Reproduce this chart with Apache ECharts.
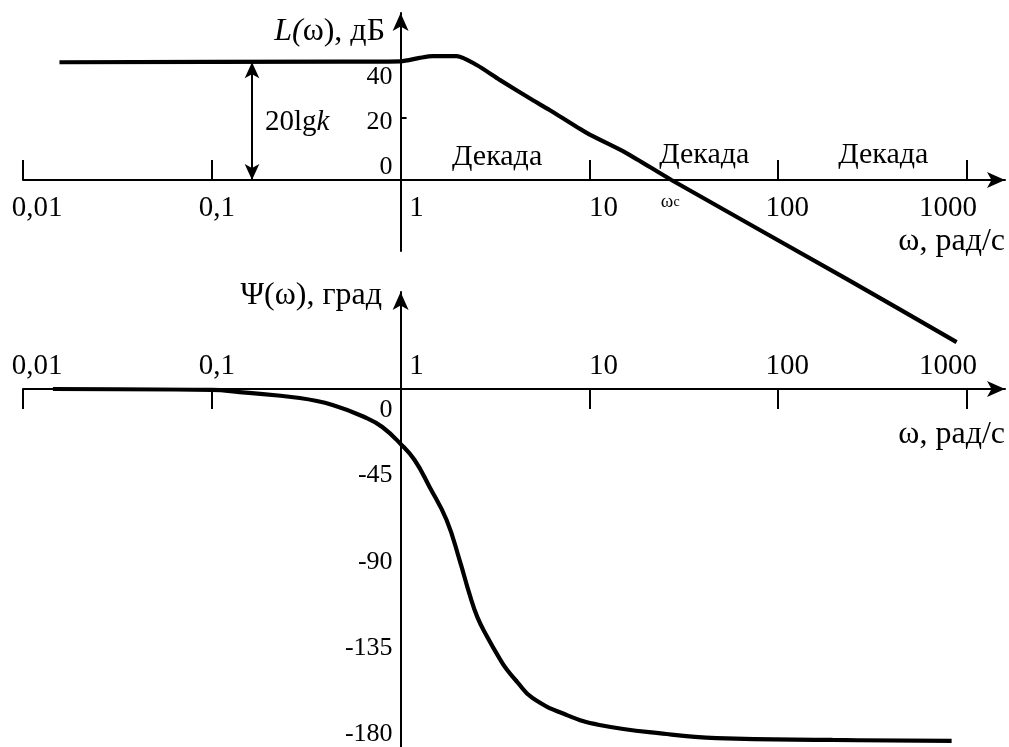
<!DOCTYPE html>
<html><head><meta charset="utf-8">
<script src="https://cdn.jsdelivr.net/npm/echarts@6/dist/echarts.min.js"></script>
<style>html,body{margin:0;padding:0;background:#fff}#c{width:1009px;height:747px}</style>
</head><body><div id="c"></div>
<script>
// ---------- data ----------
const xTickValues = [0.01, 0.1, 1, 10, 100, 1000];
const xTickLabels = ['0,01', '0,1', '1', '10', '100', '1000'];
const xTickMarks = [0.01, 0.1, 10, 100, 1000];
const magTickValues = [0, 20, 40];
const magTickMarks = [20];
const phaseTickValues = [0, -45, -90, -135, -180];

const magOmega = [0.0156, 0.5, 1.0, 1.26, 1.48, 1.98, 2.53, 3.35, 5.0, 6.15, 9.67, 15.7, 27.2, 230, 881];
const magDb    = [38.0, 38.2, 38.3, 39.4, 40.0, 40.0, 37.1, 32.3, 25.8, 22.6, 15.2, 8.7, 0, -31.9, -52.3];

const phaseOmega = [0.0144, 0.1, 0.14, 0.292, 0.436, 0.66, 0.8, 1.0, 1.186, 1.424, 1.752, 2.053, 2.32, 2.55, 2.855, 3.35, 3.643, 4.14, 5.0, 7.58, 11.3, 25.6, 47.2, 194, 829];
const phaseDeg   = [0, -0.5, -1.6, -4.7, -8.3, -15.1, -19.8, -28.6, -37.0, -51.0, -68.2, -89.1, -107.0, -118.8, -128.5, -140.5, -146.0, -152.5, -161.0, -169.8, -175, -179.7, -181.8, -182.8, -183.3];

const decadeOmega = [3.245, 40.6, 359.9];
const decadeDb = [7.4, 8.1, 8.1];
const decadeText = 'Декада';
const crossOmega = 26.8, crossLabelDb = -7.1;       // ωc label
const gainOmega = 0.1633, gainDb = 38;               // 20lgk arrow
const gainLabelOmega = 0.283, gainLabelDb = 18.7;

const magTitle = '{i|L(}{n|ω), дБ}';
const phaseTitle = 'Ψ(ω), град';
const omegaTitle = 'ω, рад/с';

// ---------- layout ----------
const FONT = 'Liberation Serif';
const W = 1009;
const gridLeft = 23, gridRight = 4;
const pxPerDecade = 188.8;
const plotW = W - gridLeft - gridRight;
const xMin = 0.01, xMax = xMin * Math.pow(10, plotW / pxPerDecade);
const yAxisOffset = -pxPerDecade * Math.log10(1 / xMin);

const topGrid = {left: gridLeft, right: gridRight, top: 13, height: 238, outerBoundsMode: 'none'};
const magMin = -22.91, magMax = 53.89;
const topZero = topGrid.top + topGrid.height * magMax / (magMax - magMin);
const topXOffset = -(topGrid.top + topGrid.height - topZero);

const botGrid = {left: gridLeft, right: gridRight, top: 292, height: 455, outerBoundsMode: 'none'};
const phMin = -186.46, phMax = 50.52;
const botZero = botGrid.top + botGrid.height * phMax / (phMax - phMin);
const botXOffset = -(botZero - botGrid.top);

const xLabelShift = [14, 5, 16, 14, 9, -19];
const magLabelShift = [-13, 4, 21];
const phLabelShift = [21, 0, 0, 0, 0];

function hPad(s) { return s >= 0 ? [0, 0, 0, 2 * s] : [0, -2 * s, 0, 0]; }
function vPad(s) { return s >= 0 ? [2 * s, 0, 0, 0] : [0, 0, -2 * s, 0]; }
function richSet(prefix, shifts, padFn, size) {
  const r = {};
  shifts.forEach((s, i) => { r[prefix + i] = {fontFamily: FONT, fontSize: size, color: '#000', padding: padFn(s)}; });
  return r;
}
function xIdx(v) { const lv = Math.log10(v); return xTickValues.findIndex(t => Math.abs(Math.log10(t) - lv) < 1e-6); }
const xFormatter = v => { const i = xIdx(v); return i < 0 ? '' : '{x' + i + '|' + xTickLabels[i] + '}'; };

const axisLineStyle = {color: '#000', width: 2};

function xAxisCfg(gridIndex, position, offset, margin) {
  return {
    type: 'log', logBase: 10, gridIndex, min: xMin, max: xMax, position, offset,
    axisLine: {show: true, onZero: false, lineStyle: axisLineStyle, symbol: ['none', 'arrow'], symbolSize: [12, 18]},
    axisTick: {show: true, inside: true, length: 20, lineStyle: {color: '#000', width: 2}, customValues: xTickMarks},
    axisLabel: {show: true, margin, customValues: xTickValues, formatter: xFormatter,
      rich: richSet('x', xLabelShift, hPad, 29)},
    splitLine: {show: false}, minorTick: {show: false}
  };
}
function yAxisCfg(gridIndex, min, max, values, prefix, shifts, tick) {
  return {
    type: 'value', gridIndex, min, max, position: 'left', offset: yAxisOffset,
    axisLine: {show: true, onZero: false, lineStyle: axisLineStyle, symbol: ['none', 'arrow'], symbolSize: [12, 18]},
    axisTick: tick ? {show: true, inside: true, length: 6, lineStyle: {color: '#000', width: 2}, customValues: tick} : {show: false},
    axisLabel: {show: true, margin: 8, customValues: values,
      formatter: v => { const i = values.indexOf(Math.round(v)); return i < 0 ? '' : '{' + prefix + i + '|' + values[i] + '}'; },
      rich: richSet(prefix, shifts, vPad, 26)},
    splitLine: {show: false}
  };
}
function textEl(text, x, y, size, rich) {
  return {type: 'text', x, y, silent: true,
    style: {text, fill: '#000', fontFamily: FONT, fontSize: size, align: 'right', verticalAlign: 'middle', rich}};
}
const annoLabel = {show: true, position: 'inside', color: '#000', opacity: 1, textBorderWidth: 0, fontFamily: FONT};

const option = {
  animation: false,
  backgroundColor: '#fff',
  grid: [topGrid, botGrid],
  xAxis: [
    xAxisCfg(0, 'bottom', topXOffset, 14),
    xAxisCfg(1, 'top', botXOffset, 8)
  ],
  yAxis: [
    yAxisCfg(0, magMin, magMax, magTickValues, 'm', magLabelShift, magTickMarks),
    yAxisCfg(1, phMin, phMax, phaseTickValues, 'p', phLabelShift, null)
  ],
  graphic: [
    textEl(magTitle, 385, 32, 32, {
      i: {fontFamily: FONT, fontSize: 32, fontStyle: 'italic', fill: '#000'},
      n: {fontFamily: FONT, fontSize: 32, fill: '#000'}}),
    textEl(phaseTitle, 382, 296, 32),
    textEl(omegaTitle, 1005, 242, 32),
    textEl(omegaTitle, 1005, 435, 32)
  ],
  series: [
    {
      type: 'line', xAxisIndex: 0, yAxisIndex: 0, clip: false,
      data: magOmega.map((w, i) => [w, magDb[i]]),
      symbol: 'none', smooth: 0.25,
      lineStyle: {color: '#000', width: 4.2}, itemStyle: {color: '#000'},
      markLine: {
        silent: true, symbol: ['arrow', 'arrow'], symbolSize: [11, 16], label: {show: false},
        lineStyle: {color: '#000', width: 2, type: 'solid'},
        data: [[{coord: [gainOmega, 0]}, {coord: [gainOmega, gainDb]}]]
      }
    },
    {
      type: 'line', xAxisIndex: 1, yAxisIndex: 1, clip: false,
      data: phaseOmega.map((w, i) => [w, phaseDeg[i]]),
      symbol: 'none', smooth: 0.45,
      lineStyle: {color: '#000', width: 4.2}, itemStyle: {color: '#000'}
    },
    {
      type: 'scatter', xAxisIndex: 0, yAxisIndex: 0, symbolSize: 0, silent: true,
      itemStyle: {color: '#000'},
      data: decadeOmega.map((w, i) => [w, decadeDb[i]]),
      label: Object.assign({}, annoLabel, {formatter: decadeText, fontSize: 30})
    },
    {
      type: 'scatter', xAxisIndex: 0, yAxisIndex: 0, symbolSize: 0, silent: true,
      itemStyle: {color: '#000'},
      data: [[crossOmega, crossLabelDb]],
      label: Object.assign({}, annoLabel, {formatter: '{w|ω}{c|c}',
        rich: {w: {fontFamily: FONT, fontSize: 19, color: '#000'}, c: {fontFamily: FONT, fontSize: 14, color: '#000'}}})
    },
    {
      type: 'scatter', xAxisIndex: 0, yAxisIndex: 0, symbolSize: 0, silent: true,
      itemStyle: {color: '#000'},
      data: [[gainLabelOmega, gainLabelDb]],
      label: Object.assign({}, annoLabel, {formatter: '{n|20lg}{k|k}',
        rich: {n: {fontFamily: FONT, fontSize: 29, color: '#000'}, k: {fontFamily: FONT, fontSize: 29, fontStyle: 'italic', color: '#000'}}})
    }
  ]
};
const chart = echarts.init(document.getElementById('c'), null, {renderer: 'canvas', width: 1009, height: 747});
chart.setOption(option);
</script>
</body></html>
